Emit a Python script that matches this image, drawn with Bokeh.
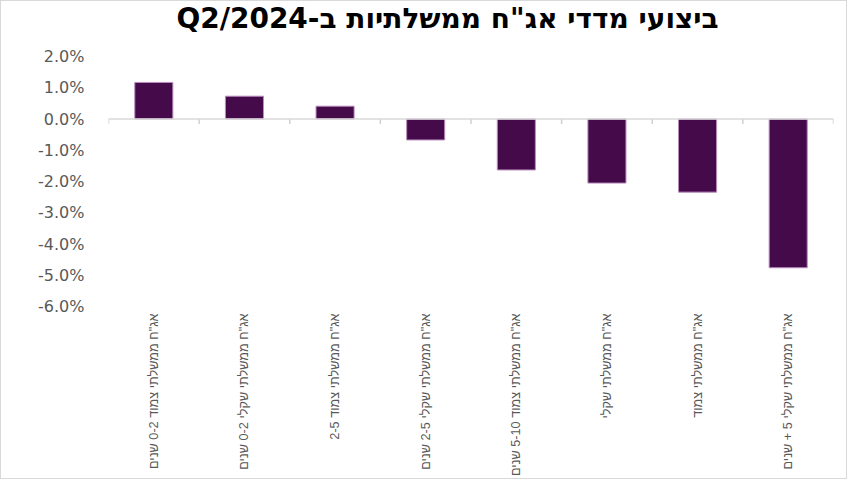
from bokeh.plotting import figure
from bokeh.models import Range1d, FactorRange, PrintfTickFormatter, FixedTicker, Span, ColumnDataSource, Label
from bokeh.embed import file_html
from bokeh.resources import INLINE
import math

title_text = "\u202bביצועי מדדי אג\"ח ממשלתיות ב-Q2/2024\u202c"
categories = [
    "אג\"ח ממשלתי צמוד 0-2 שנים",
    "אג\"ח ממשלתי שקלי 0-2 שנים",
    "אג\"ח ממשלתי צמוד 2-5",
    "אג\"ח ממשלתי שקלי 2-5 שנים",
    "אג\"ח ממשלתי צמוד 5-10 שנים",
    "אג\"ח ממשלתי שקלי",
    "אג\"ח ממשלתי צמוד",
    "אג\"ח ממשלתי שקלי 5 + שנים",
]
values = [1.17, 0.73, 0.41, -0.67, -1.63, -2.05, -2.34, -4.76]
y_ticks = [-6, -5, -4, -3, -2, -1, 0, 1, 2]

# frame extends to the top of the figure so the title can sit inside it
p = figure(width=847, height=479, x_range=FactorRange(*categories, range_padding=0),
           y_range=Range1d(-6, 3.76), output_backend="svg", toolbar_location=None,
           min_border_left=107, min_border_right=15, min_border_top=0, min_border_bottom=174)
p.styles = {"border": "1px solid #d9d9d9"}
p.outline_line_color = None
p.grid.visible = False

p.add_layout(Label(x=339, y=288, x_units="screen", y_units="screen", text=title_text,
                   text_font="DejaVu Sans", text_font_size="28px", text_font_style="bold",
                   text_color="#000000", text_align="center", text_baseline="middle"))

src = ColumnDataSource(dict(x=categories, top=values))
p.vbar(x="x", top="top", bottom=0, width=0.42, source=src,
       fill_color="#450a4a", line_color="#b98cbd", line_width=1)

# zero baseline with category-boundary ticks
p.add_layout(Span(location=0, dimension="width", line_color="#d9d9d9", line_width=1.5))
bx = [(c, -0.5) for c in categories] + [(categories[-1], 0.5)]
p.segment(x0=bx, y0=[0] * len(bx), x1=bx, y1=[-0.16] * len(bx), line_color="#d0d0d0", line_width=1.5)

ya = p.yaxis[0]
ya.ticker = FixedTicker(ticks=y_ticks)
ya.formatter = PrintfTickFormatter(format="%.1f%%")
ya.axis_line_color = None
ya.major_tick_line_color = None
ya.minor_tick_line_color = None
ya.major_tick_out = 0
ya.minor_tick_out = 0
ya.major_label_text_font = "DejaVu Sans"
ya.major_label_text_font_size = "16px"
ya.major_label_text_color = "#595959"
ya.major_label_standoff = 24

xa = p.xaxis[0]
xa.axis_line_color = None
xa.major_tick_line_color = None
xa.minor_tick_line_color = None
xa.major_tick_out = 0
xa.major_label_orientation = math.pi / 2
xa.major_label_text_font = "Liberation Sans"
xa.major_label_text_font_size = "12.7px"
xa.major_label_text_color = "#595959"
xa.major_label_standoff = 7

open("out.html", "w").write(file_html(p, INLINE))
